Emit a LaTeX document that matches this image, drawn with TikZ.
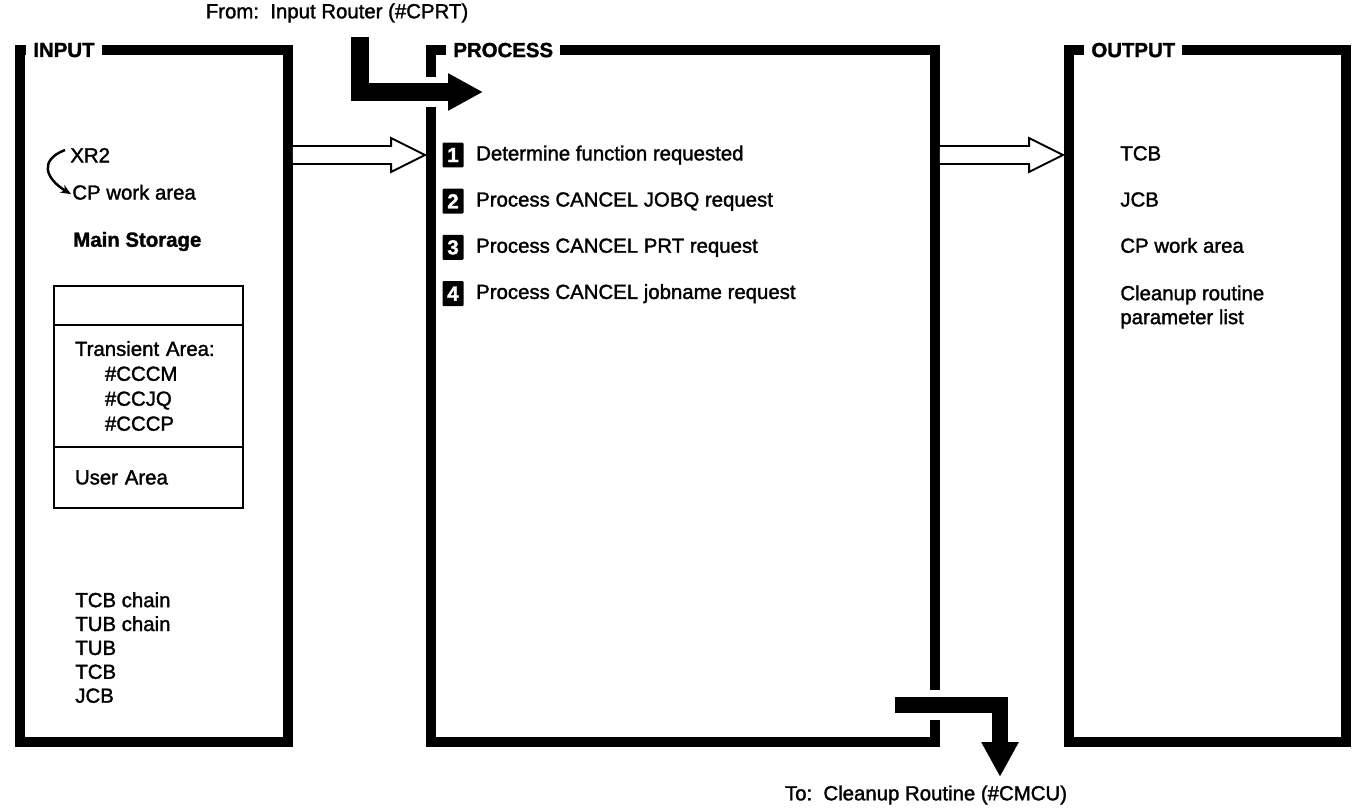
\documentclass[tikz,border=0pt]{standalone}
\usepackage{fontspec}
\setmainfont{Liberation Sans}[FakeBold=1.6]
\usetikzlibrary{arrows.meta, positioning, calc}
\newcommand{\diagfont}{\fontsize{11.6}{14.2}\selectfont}
\tikzset{
  panel/.style={rectangle, draw=black, line width=5.7pt, inner sep=0pt, outer sep=0pt},
  panelhead/.style={fill=white, font=\diagfont\bfseries, inner xsep=4pt, inner ysep=1pt, anchor=west},
  txt/.style={inner sep=0pt, text height=1.6ex, text depth=0.45ex, anchor=west},
  txtblock/.style={inner sep=0pt, align=left, anchor=north west, font=\fontsize{11.6}{13.6}\selectfont},
  stepnum/.style={fill=black, text=white, font=\diagfont\bfseries, minimum width=0.42cm,
                  minimum height=0.5cm, inner sep=0pt, rounded corners=0.6pt},
  membox/.style={rectangle, draw=black, line width=0.9pt, minimum width=3.78cm, inner sep=0pt,
                 outer sep=0pt, text width=2.94cm, align=left},
  hollow/.style={draw=black, line width=1.1pt, line join=miter, fill=white},
  fatarrow/.style={draw=black, line width=0.36cm, line join=miter, -{Triangle[length=0.7cm, width=0.7cm]}},
  gapline/.style={draw=white, line width=0.6cm},
  curvearrow/.style={line width=1.4pt, -{Stealth[length=6pt, width=5pt]}},
}
\begin{document}
\begin{tikzpicture}[x=0.02cm, y=-0.02cm, font=\diagfont]
  \useasboundingbox (0,0) rectangle (1354,811);

  % The three panels
  \node[panel, minimum width=5.36cm, minimum height=13.84cm] (inbox)   at (154,396)    {};
  \node[panel, minimum width=10.08cm, minimum height=13.84cm] (procbox) at (683,396)    {};
  \node[panel, minimum width=5.54cm, minimum height=13.84cm] (outbox)  at (1207.5,396) {};

  \node[panelhead] (inhead)   at ([xshift=0.12cm]inbox.north west)  {INPUT};
  \node[panelhead] (prochead) at ([xshift=0.3cm]procbox.north west) {PROCESS};
  \node[panelhead] (outhead)  at ([xshift=0.3cm]outbox.north west)  {OUTPUT};

  % Process steps
  \node[stepnum] (n1) at (453,155) {1};
  \node[stepnum, below=0.41cm of n1] (n2) {2};
  \node[stepnum, below=0.41cm of n2] (n3) {3};
  \node[stepnum, below=0.41cm of n3] (n4) {4};
  \node[txt, right=0.24cm of n1] (s1) {Determine function requested};
  \node[txt, right=0.24cm of n2] (s2) {Process CANCEL JOBQ request};
  \node[txt, right=0.24cm of n3] (s3) {Process CANCEL PRT request};
  \node[txt, right=0.24cm of n4] (s4) {Process CANCEL jobname request};

  % Input panel contents
  \node[txt] (xr2) at ([xshift=1cm, yshift=-0.04cm]inbox.west |- n1) {XR2};
  \node[txt] (cpw) at ([xshift=1.04cm, yshift=0.14cm]inbox.west |- n2) {CP work area};
  \node[txt, font=\diagfont\bfseries] (mainst) at ([xshift=1.06cm, yshift=0.12cm]inbox.west |- n3) {Main Storage};
  \node[membox, minimum height=0.78cm, anchor=north west] (mema) at (54,286) {};
  \node[membox, minimum height=2.44cm, below=0pt of mema, inner xsep=0.42cm] (memb)
    {Transient Area:\\\hspace*{0.6cm}\#CCCM\\\hspace*{0.6cm}\#CCJQ\\\hspace*{0.6cm}\#CCCP};
  \node[membox, minimum height=1.22cm, below=0pt of memb, inner xsep=0.42cm] (memc) {User Area};
  \node[txtblock] (ctl) at (75,592) {TCB chain\\TUB chain\\TUB\\TCB\\JCB};

  \draw[curvearrow] ($(xr2.west)+(-5,-7)$) .. controls +(-26,10) and +(-26,-16) .. ($(cpw.west)+(-1,0)$);

  % Output panel contents
  \node[txt] (o1) at ([xshift=1.02cm]outbox.west |- n1) {TCB};
  \node[txt] (o2) at ([xshift=1.02cm]outbox.west |- n2) {JCB};
  \node[txt] (o3) at ([xshift=1.02cm]outbox.west |- n3) {CP work area};
  \node[txtblock] (o4) at ([xshift=1.02cm, yshift=0.17cm]outbox.west |- n4) {Cleanup routine\\parameter list};

  % Hollow data-flow arrows
  \coordinate (h1) at ($(procbox.west |- n1)+(-6,0)$);
  \coordinate (h2) at ($(outbox.west |- n1)+(-6,0)$);
  \draw[hollow] ($(inbox.east |- n1)+(5,-9)$) -- ($(h1)+(-34,-9)$) -- ($(h1)+(-34,-17)$) -- (h1)
    -- ($(h1)+(-34,17)$) -- ($(h1)+(-34,9)$) -- ($(inbox.east |- n1)+(5,9)$);
  \draw[hollow] ($(procbox.east |- n1)+(5,-9)$) -- ($(h2)+(-34,-9)$) -- ($(h2)+(-34,-17)$) -- (h2)
    -- ($(h2)+(-34,17)$) -- ($(h2)+(-34,9)$) -- ($(procbox.east |- n1)+(5,9)$);

  % Control flow in and out
  \node (fromtxt) at (337,13) {From:\ \ Input Router (\#CPRT)};
  \coordinate (rtop) at (360,37);
  \coordinate (rtip) at (483,92);
  \coordinate (rbend) at (rtop |- rtip);
  \draw[gapline] (rbend) -- (rtip);
  \draw[fatarrow] (rtop) |- (rtip);

  \node (totxt) at (926,795) {To:\ \ Cleanup Routine (\#CMCU)};
  \coordinate (cstart) at (895,705);
  \coordinate (ctip) at (1000,777);
  \draw[gapline] (cstart) -- (cstart -| ctip);
  \draw[fatarrow, line width=0.32cm] (cstart) -| (ctip);
\end{tikzpicture}
\end{document}
